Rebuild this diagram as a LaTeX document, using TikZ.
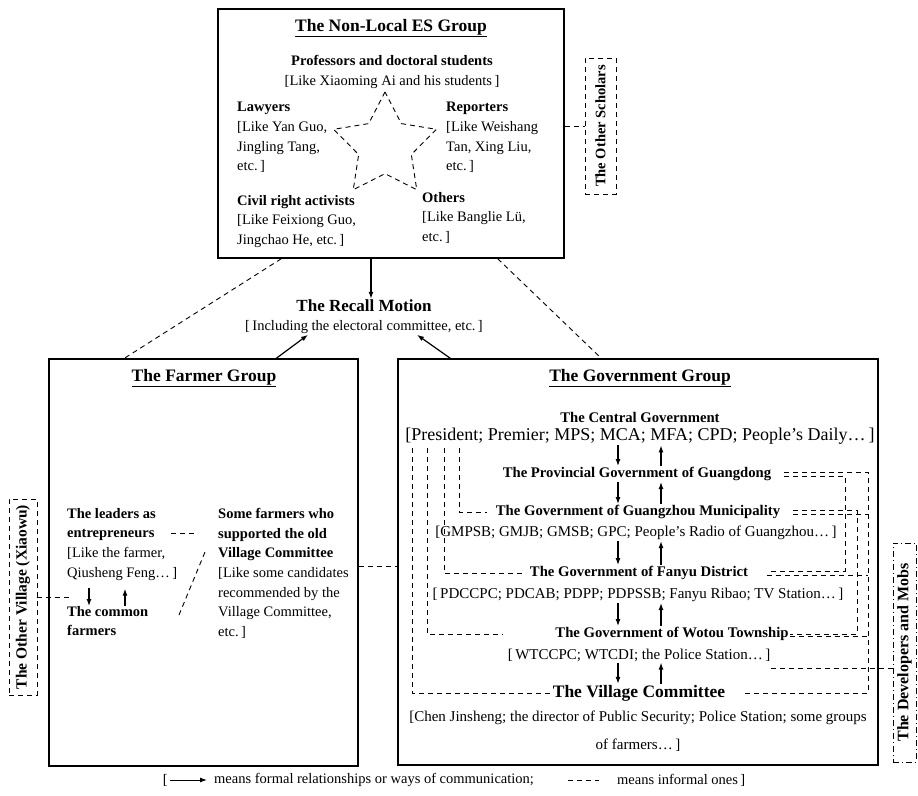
\documentclass[tikz,border=0pt]{standalone}
\usepackage{fontspec}
\setmainfont{Liberation Serif}
\usetikzlibrary{shapes.geometric,arrows.meta}
\tikzset{
    body/.style={font=\fontsize{14.5}{19.7}\selectfont, inner sep=0pt},
    notes/.style={body, align=left, anchor=north west},
    grouptitle/.style={font=\bfseries\fontsize{17.5}{20}\selectfont, inner sep=1pt},
    govhead/.style={font=\bfseries\fontsize{14.7}{18}\selectfont, inner sep=1pt},
    govnote/.style={font=\fontsize{15}{18}\selectfont, inner sep=1pt},
    bighead/.style={font=\bfseries\fontsize{17.5}{20}\selectfont, inner sep=1pt},
    sidehead/.style={rotate=90, font=\bfseries\fontsize{15}{18}\selectfont, inner sep=0pt},
    groupbox/.style={draw, line width=1.4pt},
    formal/.style={-{Latex[length=7pt,width=5pt]}, line width=1.2pt},
    informal/.style={dash pattern=on 5pt off 4pt, line width=0.9pt},
    dashdot/.style={dash pattern=on 6pt off 3pt on 1pt off 3pt, line width=0.9pt}
}
\begin{document}
\begin{tikzpicture}[x=1pt, y=-1pt]
    \useasboundingbox (0,0) rectangle (918,795);

    % the non-local ES group
    \node[groupbox, minimum width=346pt, minimum height=249pt] (es) at (391,133.5) {};
    \node[grouptitle] (estitle) at (391,28) {\underline{The Non-Local ES Group}};
    \node[body, align=center, anchor=north] (profs) at (392,55)
        {\textbf{Professors and doctoral students}\\{[}Like Xiaoming Ai and his students\,]};
    \node[star, star points=5, star point ratio=1.95, minimum size=108pt, inner sep=0pt,
          draw, informal] (star) at (385,146) {};
    \node[notes] (lawyers) at (237,102) {\textbf{Lawyers}\\{[}Like Yan Guo,\\Jingling Tang,\\etc.\,]};
    \node[notes] (reporters) at (446,102) {\textbf{Reporters}\\{[}Like Weishang\\Tan, Xing Liu,\\etc.\,]};
    \node[notes] (activists) at (237,195) {\textbf{Civil right activists}\\{[}Like Feixiong Guo,\\Jingchao He, etc.\,]};
    \node[notes] (others) at (422,192) {\textbf{Others}\\{[}Like Banglie Lü,\\etc.\,]};

    \node[draw, informal, minimum width=31pt, minimum height=136pt] (scholars) at (600.5,126) {};
    \node[sidehead, font=\bfseries\fontsize{14.5}{18}\selectfont] at (scholars) {The Other Scholars};
    \draw[informal] (es.east |- scholars.west) -- (scholars.west);

    % the recall motion
    \node[bighead, font=\bfseries\fontsize{17}{20}\selectfont] (recall) at (364,306) {The Recall Motion};
    \node[body, inner sep=1pt] (recallnote) at (364,327) {[\,Including the electoral committee, etc.\,]};
    \draw[formal] ([xshift=7pt]recall.north |- es.south) -- ([xshift=7pt]recall.north);

    % the farmer group
    \node[groupbox, minimum width=309pt, minimum height=407pt] (farmer) at (203.5,562.5) {};
    \node[grouptitle] (farmertitle) at (204,378) {\underline{The Farmer Group}};
    \node[notes] (leaders) at (67,508)
        {\textbf{The leaders as}\\\textbf{entrepreneurs}\\{[}Like the farmer,\\Qiusheng Feng…\,]};
    \node[notes] (commonf) at (67,606) {\textbf{The common}\\\textbf{farmers}};
    \node[notes] (supporters) at (218,508)
        {\textbf{Some farmers who}\\\textbf{supported the old}\\\textbf{Village Committee}\\{[}Like some candidates\\recommended by the\\Village Committee,\\etc.\,]};
    \draw[formal] ([xshift=22pt,yshift=-7pt]leaders.south west) -- ([xshift=22pt]commonf.north west);
    \draw[formal] ([xshift=58pt]commonf.north west) -- ([xshift=58pt,yshift=-8pt]leaders.south west);
    \draw[informal] ([shift={(104pt,-25pt)}]leaders.north west) -- ([shift={(-21pt,-25pt)}]supporters.north west);
    \draw[informal] ([shift={(112pt,-107pt)}]leaders.north west) -- ([shift={(-13pt,-44pt)}]supporters.north west);

    \node[draw, informal, minimum width=28pt, minimum height=196pt] (othervil) at (23,597) {};
    \node[sidehead, font=\bfseries\fontsize{15.5}{18}\selectfont] at (othervil) {The Other Village (Xiaowu)};
    \draw[informal] (othervil.east) -- ([xshift=5pt]othervil.east -| commonf.west);

    % the government group
    \node[groupbox, minimum width=480pt, minimum height=406pt] (gov) at (638,562) {};
    \node[grouptitle] (govtitle) at (640,378) {\underline{The Government Group}};
    \node[govhead] (central) at (640,417) {The Central Government};
    \node[font=\fontsize{18}{20}\selectfont, inner sep=1pt] (president) at (640,436)
        {[President; Premier; MPS; MCA; MFA; CPD; People’s Daily…\,]};
    \node[govhead] (prov) at (637,474) {The Provincial Government of Guangdong};
    \node[govhead] (gz) at (638,512) {The Government of Guangzhou Municipality};
    \node[govnote] (gznote) at (636,533) {[GMPSB; GMJB; GMSB; GPC; People’s Radio of Guangzhou…\,]};
    \node[govhead] (fanyu) at (639,573) {The Government of Fanyu District};
    \node[govnote] (fynote) at (638,595) {[\,PDCCPC; PDCAB; PDPP; PDPSSB; Fanyu Ribao; TV Station…\,]};
    \node[govhead] (wotou) at (672,634) {The Government of Wotou Township};
    \node[govnote] (wtnote) at (639,655) {[\,WTCCPC; WTCDI; the Police Station…\,]};
    \node[bighead] (village) at (639,693) {The Village Committee};
    \node[govnote, align=center, font=\fontsize{15}{28}\selectfont] (vcnote) at (638,731)
        {[Chen Jinsheng; the director of Public Security; Police Station; some groups\\of farmers…\,]};

    \coordinate (dn) at (618,0);
    \coordinate (up) at (661,0);
    \foreach \hi/\lo in {president/prov, prov/gz, gznote/fanyu, fynote/wotou, wtnote/village} {
        \draw[formal] (\hi.south -| dn) -- (\lo.north -| dn);
        \draw[formal] (\lo.north -| up) -- (\hi.south -| up);
    }

    % informal ties inside the government group
    \coordinate (cl1) at (412,0);
    \coordinate (cl2) at (427,0);
    \coordinate (cl3) at (444,0);
    \coordinate (cl4) at (459,0);
    \foreach \c/\lo/\gap in {cl1/village/0, cl2/wotou/51, cl3/fanyu/6, cl4/gz/8}
        \draw[informal, shorten <=3pt, shorten >=\gap pt] (president.south -| \c) |- (\lo.west);

    \coordinate (cr1) at (845,0);
    \coordinate (cr2) at (857,0);
    \coordinate (cr3) at (868,0);
    \draw[informal, shorten <=12pt, shorten >=19pt] ([yshift=2pt]prov.east) -| (cr3 |- village.east) -- (village.east);
    \draw[informal, shorten <=12pt, shorten >=18pt] ([yshift=-2pt]prov.east) -| ([yshift=2pt]cr1 |- fanyu.east) -- ([yshift=2pt]fanyu.east);
    \draw[informal, shorten <=12pt] ([yshift=2pt]gz.east) -| (cr2 |- wotou.east) -- (wotou.east);
    \draw[informal, shorten <=12pt] ([yshift=-2pt]gz.east) -- ([yshift=-2pt]gz.east -| cr3);
    \draw[informal, shorten <=18pt] ([yshift=-2pt]fanyu.east) -- ([yshift=-2pt]fanyu.east -| cr3);
    \draw[informal] ([yshift=-2pt]wotou.east) -- ([yshift=-2pt]wotou.east -| cr3);

    \node[draw, dashdot, minimum width=23pt, minimum height=219pt] (devs) at (904.5,652.5) {};
    \node[sidehead, font=\bfseries\fontsize{16}{18}\selectfont] at (devs) {The Developers and Mobs};
    \draw[informal] ([yshift=-13pt]wtnote.east) -- ([yshift=-13pt]wtnote.east -| devs.west);

    % ties between the groups
    \draw[formal] ([xshift=228pt]farmer.north west) -- ([xshift=-56pt]recallnote.south);
    \draw[formal] ([xshift=53pt]gov.north west) -- ([xshift=53pt]recallnote.south);
    \draw[informal] ([xshift=64pt]es.south west) -- ([xshift=76pt]farmer.north west);
    \draw[informal] ([xshift=-67pt]es.south east) -- ([xshift=204pt]gov.north west);
    \draw[informal] ([yshift=-3.5pt]farmer.east) -- ([yshift=-3.5pt]farmer.east -| gov.west);

    % legend
    \node[body, anchor=east] (legbr) at (168,780) {[};
    \node[body, anchor=west] (legform) at (214,780) {means formal relationships or ways of communication;};
    \draw[formal, line width=1pt] ([xshift=2pt]legbr.east) -- ([xshift=-7pt]legform.west);
    \node[body, anchor=west] (leginf) at (617,780) {means informal ones\,]};
    \draw[informal] ([xshift=34pt]legform.east) -- ([xshift=-18pt]leginf.west);
\end{tikzpicture}
\end{document}
